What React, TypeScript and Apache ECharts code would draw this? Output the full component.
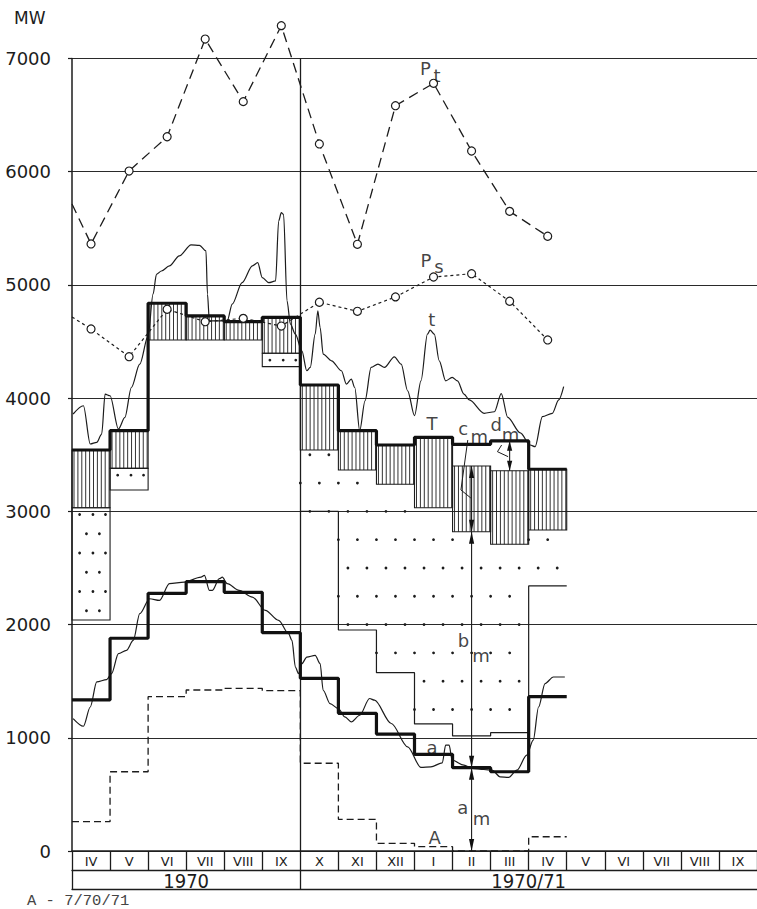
import React, { useEffect, useRef } from "react";
import * as echarts from "echarts";

// ---------- data ----------
const months = ["IV", "V", "VI", "VII", "VIII", "IX", "X", "XI", "XII", "I", "II", "III", "IV", "V", "VI", "VII", "VIII", "IX"];
const yearLabels = ["1970", "1970/71"];
const yearCenters = [3, 12];
const yearBounds = [0, 6];
const yTickValues = [0, 1000, 2000, 3000, 4000, 5000, 6000, 7000];

// monthly step values (month index 0 = IV 1970)
const T = [3542, 3713, 4838, 4726, 4675, 4714, 4116, 3713, 3586, 3654, 3592, 3622, 3372];
const hatchLow = [3032, 3380, 4514, 4514, 4514, 4396, 3542, 3365, 3239, 3032, 2820, 2709, 2835];
const hatchHigh = [3542, 3713, 4838, 4726, 4675, 4714, 4116, 3713, 3586, 3654, 3401, 3359, 3372];
const dotMonths = [0, 1, 5, 6, 7, 8, 9, 10, 11, 12];
const dotLow = [2040, 3189, 4278, 3000, 1952, 1575, 1122, 1016, 1045, 2341];
const aLevel = [1334, 1879, 2276, 2379, 2285, 1928, 1525, 1216, 1033, 854, 736, 700, 1363];
const ALevel = [259, 700, 1363, 1422, 1437, 1416, 775, 280, 68, 38, 0, 0, 126];

const PtStart = 5715;
const Pt = [5362, 6006, 6309, 7172, 6619, 7290, 6245, 5359, 6583, 6781, 6183, 5650, 5430];
const PsStart = 4717;
const Ps = [4611, 4366, 4785, 4675, 4705, 4637, 4847, 4767, 4894, 5070, 5099, 4856, 4514];

const tX = [0.03, 0.3, 0.48, 0.65, 0.78, 0.87, 1.0, 1.22, 1.39, 1.56, 1.78, 2.0, 2.13, 2.22, 2.35, 2.56, 2.82, 3.13, 3.35, 3.52, 3.56, 3.61, 3.87, 4.08, 4.21, 4.47, 4.74, 4.88, 5.0, 5.17, 5.35, 5.43, 5.5, 5.56, 5.65, 5.74, 5.87, 6.04, 6.17, 6.26, 6.39, 6.46, 6.52, 6.6, 6.82, 7.08, 7.21, 7.34, 7.43, 7.56, 7.7, 7.86, 8.04, 8.21, 8.47, 8.65, 8.82, 9.0, 9.17, 9.34, 9.41, 9.52, 9.65, 9.82, 9.99, 10.13, 10.3, 10.44, 10.83, 11.1, 11.28, 11.45, 11.78, 12.04, 12.17, 12.36, 12.62, 12.79, 12.92];
const tY = [3860, 3933, 3595, 3610, 3683, 4036, 4021, 3727, 3830, 4094, 4300, 4550, 4918, 5094, 5123, 5168, 5256, 5353, 5350, 5300, 4918, 4683, 4683, 4683, 4830, 5020, 5168, 5197, 5064, 5020, 5035, 5564, 5638, 5623, 4859, 4653, 4565, 4418, 4242, 4271, 4565, 4771, 4623, 4389, 4330, 4242, 4124, 4168, 4094, 3712, 3977, 4271, 4300, 4271, 4365, 4300, 4065, 3845, 4153, 4565, 4600, 4565, 4330, 4153, 4183, 4153, 4036, 3984, 3866, 3880, 4040, 3830, 3693, 3586, 3571, 3836, 3866, 3984, 4101];

const aX = [0.03, 0.3, 0.48, 0.65, 0.91, 1.04, 1.22, 1.43, 1.61, 1.78, 2.04, 2.3, 2.56, 2.95, 3.39, 3.48, 3.61, 3.69, 3.87, 3.95, 4.08, 4.39, 4.74, 5.08, 5.43, 5.69, 5.78, 5.87, 5.95, 6.04, 6.17, 6.39, 6.52, 6.6, 6.78, 7.0, 7.17, 7.34, 7.56, 7.82, 7.95, 8.39, 8.82, 9.17, 9.43, 9.73, 9.82, 9.91, 9.99, 10.3, 10.52, 10.82, 11.04, 11.25, 11.47, 11.69, 11.95, 12.12, 12.26, 12.43, 12.65, 12.95];
const aY = [1170, 1102, 1272, 1493, 1514, 1567, 1743, 1772, 1860, 2096, 2228, 2213, 2361, 2375, 2419, 2434, 2302, 2302, 2405, 2419, 2361, 2302, 2243, 2125, 2037, 1920, 1860, 1625, 1567, 1655, 1713, 1728, 1655, 1420, 1302, 1258, 1184, 1140, 1199, 1347, 1332, 1126, 920, 738, 743, 779, 935, 935, 802, 758, 729, 720, 714, 655, 650, 714, 847, 979, 1272, 1479, 1537, 1537];

const leaderC = [[10.4, 3630], [10.22, 3189], [10.48, 3118]];
const leaderD = [[11.29, 3586], [11.18, 3527], [11.46, 3483]];

const annText = ["P", "t", "P", "s", "t", "T", "c", "m", "d", "m", "b", "m", "a", "a", "m", "A"];
const annX = [9.29, 9.59, 9.3, 9.64, 9.457, 9.457, 10.28, 10.7, 11.15, 11.52, 10.29, 10.75, 9.457, 10.27, 10.76, 9.527];
const annY = [6914, 6846, 5220, 5167, 4699, 3772, 3736, 3657, 3763, 3683, 1855, 1731, 914, 384, 283, 119];

// ---------- helpers ----------
function steps(vals: number[], start: number) {
  const out: number[][] = [];
  vals.forEach((v, i) => {
    out.push([start + i, v]);
    out.push([start + i + 1, v]);
  });
  return out;
}

const INK = "#1c1c1c";
const FONT = "DejaVu Sans, sans-serif";

export default function App() {
  const ref = useRef<HTMLDivElement>(null);
  useEffect(() => {
    const chart = echarts.init(ref.current!, null, { renderer: "svg" });

    const hatchData = hatchLow.map((lo, i) => [i, lo, hatchHigh[i]]);
    const dotData = dotMonths.map((m, k) => [m, dotLow[k], hatchLow[m]]);
    const stairMonths = dotMonths.filter((m) => m >= 6);
    const stairVals = stairMonths.map((m) => dotLow[dotMonths.indexOf(m)]);
    const arrowData = [
      [10.5, 0, aLevel[10]],
      [10.5, aLevel[10], hatchLow[10]],
      [10.5, hatchLow[10], hatchHigh[10]],
      [11.5, hatchHigh[11], T[11]],
    ];

    const option: any = {
      animation: false,
      backgroundColor: "#fff",
      grid: { left: 72, top: 58.5, width: 689, height: 792.5, containLabel: false },
      xAxis: [
        { type: "value", min: 0, max: 18, position: "bottom", axisLine: { show: false }, axisTick: { show: false }, axisLabel: { show: false }, splitLine: { show: false } },
        {
          type: "category",
          position: "bottom",
          data: months.map((_, i) => String(i)),
          boundaryGap: true,
          axisLine: { show: true, lineStyle: { color: INK, width: 1.5 } },
          axisTick: { show: true, interval: 0, length: 19, lineStyle: { color: INK, width: 1.3 } },
          axisLabel: { interval: 0, margin: 4, fontSize: 13, fontFamily: FONT, color: INK, formatter: (_v: string, idx: number) => months[idx] },
          splitLine: { show: false },
        },
        {
          type: "value",
          min: 0,
          max: 18,
          position: "bottom",
          offset: 19,
          axisLine: { show: true, lineStyle: { color: INK, width: 1.3 } },
          axisTick: { show: true, customValues: yearBounds, length: 19, lineStyle: { color: INK, width: 1.3 } },
          axisLabel: {
            show: true,
            customValues: yearCenters,
            margin: 1,
            fontSize: 20,
            fontFamily: "Liberation Sans Narrow, DejaVu Sans Condensed, sans-serif",
            color: INK,
            formatter: (v: number) => yearLabels[yearCenters.indexOf(v)] ?? "",
          },
          splitLine: { show: false },
        },
        {
          type: "value",
          min: 0,
          max: 18,
          position: "bottom",
          offset: 38,
          axisLine: { show: true, lineStyle: { color: INK, width: 1.3 } },
          axisTick: { show: false },
          axisLabel: { show: false },
          splitLine: { show: false },
        },
      ],
      yAxis: {
        type: "value",
        min: 0,
        max: 7000,
        interval: 500,
        axisLine: { show: true, lineStyle: { color: INK, width: 1.5 } },
        axisTick: { show: true, customValues: yTickValues, length: 4, lineStyle: { color: INK, width: 1.2 } },
        axisLabel: {
          margin: 21,
          fontSize: 18,
          fontFamily: FONT,
          color: INK,
          customValues: yTickValues,
          formatter: (v: number) => (v % 1000 === 0 ? String(v) : ""),
        },
        splitLine: { show: true, lineStyle: { color: "#2a2a2a", width: 1.1 } },
      },
      graphic: [
        { type: "text", left: 14, top: 9, style: { text: "MW", fontSize: 17, fontFamily: FONT, fill: INK } },
        { type: "text", left: 27, top: 893, style: { text: "A - 7/70/71", fontSize: 15.5, fontFamily: "Liberation Mono, DejaVu Sans Mono, monospace", fill: "#444" } },
      ],
      series: [
        {
          type: "custom",
          name: "hatch",
          xAxisIndex: 0,
          silent: true,
          z: 2,
          data: hatchData,
          encode: { x: 0, y: 1 },
          renderItem: (_p: any, api: any) => {
            const i = api.value(0), lo = api.value(1), hi = api.value(2);
            const [x0, yt] = api.coord([i, hi]);
            const [x1, yb] = api.coord([i + 1, lo]);
            const children: any[] = [];
            for (let x = x0 + 2; x < x1 - 0.8; x += 3.9) {
              children.push({ type: "line", shape: { x1: x, y1: yt, x2: x, y2: yb }, style: { stroke: INK, lineWidth: 0.9 } });
            }
            children.push({ type: "rect", shape: { x: x0, y: yt, width: x1 - x0, height: yb - yt }, style: { fill: "none", stroke: INK, lineWidth: 1.1 } });
            return { type: "group", children };
          },
        },
        {
          type: "custom",
          name: "dots",
          xAxisIndex: 0,
          silent: true,
          z: 2,
          data: dotData,
          encode: { x: 0, y: 1 },
          renderItem: (_p: any, api: any) => {
            const m = api.value(0), lo = api.value(1), hi = api.value(2);
            const children: any[] = [];
            const boxed = m < 6;
            const dot = (xv: number, v: number) => {
              const [px, py] = api.coord([xv, v]);
              children.push({ type: "circle", shape: { cx: px, cy: py, r: 1.4 }, style: { fill: INK } });
            };
            if (boxed) {
              let r = 0;
              for (let v = hi - 60; v > lo + 30; v -= 170, r++) {
                const offs = r % 2 === 0 ? [0.2, 0.55, 0.88] : [0.38, 0.72];
                offs.forEach((o) => dot(m + o, v));
              }
              const [x0, yt] = api.coord([m, hi]);
              const [x1, yb] = api.coord([m + 1, lo]);
              children.push({ type: "rect", shape: { x: x0, y: yt, width: x1 - x0, height: yb - yt }, style: { fill: "none", stroke: INK, lineWidth: 1.1 } });
            } else {
              for (let j = Math.ceil(lo / 250); j * 250 <= hi - 35; j++) {
                const v = j * 250;
                const offs = j % 2 === 0 ? [0.25, 0.75] : [0, 0.5];
                offs.forEach((o) => dot(m + o, v));
              }
            }
            return { type: "group", children };
          },
        },
        {
          type: "line",
          name: "stair",
          data: steps(stairVals, 6),
          symbol: "none",
          silent: true,
          z: 3,
          lineStyle: { color: INK, width: 1.2 },
        },
        {
          type: "line",
          name: "T",
          data: steps(T, 0),
          symbol: "none",
          silent: true,
          z: 6,
          lineStyle: { color: "#111", width: 3.2 },
          markLine: {
            silent: true,
            symbol: "none",
            label: { show: false },
            lineStyle: { color: INK, width: 1.3, type: "solid" },
            data: [{ xAxis: 6 }],
          },
        },
        {
          type: "line",
          name: "a",
          data: steps(aLevel, 0),
          symbol: "none",
          silent: true,
          z: 6,
          lineStyle: { color: "#111", width: 3.2 },
        },
        {
          type: "line",
          name: "A",
          data: steps(ALevel, 0),
          symbol: "none",
          silent: true,
          z: 4,
          lineStyle: { color: INK, width: 1.3, type: [7, 4] },
        },
        {
          type: "line",
          name: "t",
          data: tX.map((x, i) => [x, tY[i]]),
          symbol: "none",
          smooth: 0.3,
          smoothMonotone: "x",
          silent: true,
          z: 5,
          lineStyle: { color: INK, width: 1.2 },
        },
        {
          type: "line",
          name: "a-curve",
          data: aX.map((x, i) => [x, aY[i]]),
          symbol: "none",
          smooth: 0.3,
          smoothMonotone: "x",
          silent: true,
          z: 5,
          lineStyle: { color: INK, width: 1.2 },
        },
        {
          type: "line",
          name: "Pt",
          clip: false,
          data: [{ value: [0, PtStart], symbol: "none" }, ...Pt.map((v, i) => ({ value: [i + 0.5, v] }))],
          symbol: "circle",
          symbolSize: 8,
          silent: true,
          z: 7,
          itemStyle: { color: "#fff", borderColor: INK, borderWidth: 1.2 },
          lineStyle: { color: INK, width: 1.3, type: [10, 6] },
        },
        {
          type: "line",
          name: "Ps",
          clip: false,
          data: [{ value: [0, PsStart], symbol: "none" }, ...Ps.map((v, i) => ({ value: [i + 0.5, v] }))],
          symbol: "circle",
          symbolSize: 8,
          silent: true,
          z: 7,
          itemStyle: { color: "#fff", borderColor: INK, borderWidth: 1.2 },
          lineStyle: { color: INK, width: 1.2, type: [3, 3] },
        },
        {
          type: "custom",
          name: "arrows",
          xAxisIndex: 0,
          silent: true,
          z: 8,
          data: arrowData,
          encode: { x: 0, y: 1 },
          renderItem: (_p: any, api: any) => {
            const x = api.value(0), v0 = api.value(1), v1 = api.value(2);
            const [px, p0] = api.coord([x, v0]);
            const [, p1] = api.coord([x, v1]);
            const len = Math.min(12, Math.abs(p0 - p1) / 3);
            return {
              type: "group",
              children: [
                { type: "line", shape: { x1: px, y1: p0, x2: px, y2: p1 }, style: { stroke: INK, lineWidth: 1.1 } },
                { type: "polygon", shape: { points: [[px, p0], [px - 2.6, p0 - len], [px + 2.6, p0 - len]] }, style: { fill: "#111" } },
                { type: "polygon", shape: { points: [[px, p1], [px - 2.6, p1 + len], [px + 2.6, p1 + len]] }, style: { fill: "#111" } },
              ],
            };
          },
        },
        {
          type: "line",
          name: "leaderC",
          data: leaderC,
          symbol: "none",
          silent: true,
          z: 8,
          lineStyle: { color: INK, width: 1 },
        },
        {
          type: "line",
          name: "leaderD",
          data: leaderD,
          symbol: "none",
          silent: true,
          z: 8,
          lineStyle: { color: INK, width: 1 },
        },
        {
          type: "scatter",
          name: "labels",
          silent: true,
          clip: false,
          z: 9,
          symbolSize: 0,
          itemStyle: { color: "#111" },
          label: {
            show: true,
            position: [0, 0],
            align: "center",
            verticalAlign: "middle",
            fontSize: 18,
            fontFamily: FONT,
            color: "#111",
            textBorderWidth: 0,
          },
          labelLayout: { hideOverlap: false },
          data: annX.map((x, i) => ({ value: [x, annY[i]], label: { formatter: annText[i] } })),
        },
      ],
    };
    chart.setOption(option);
    return () => chart.dispose();
  }, []);
  return <div ref={ref} style={{ position: "absolute", left: 0, top: 0, width: 757, height: 909, background: "#fff" }} />;
}
